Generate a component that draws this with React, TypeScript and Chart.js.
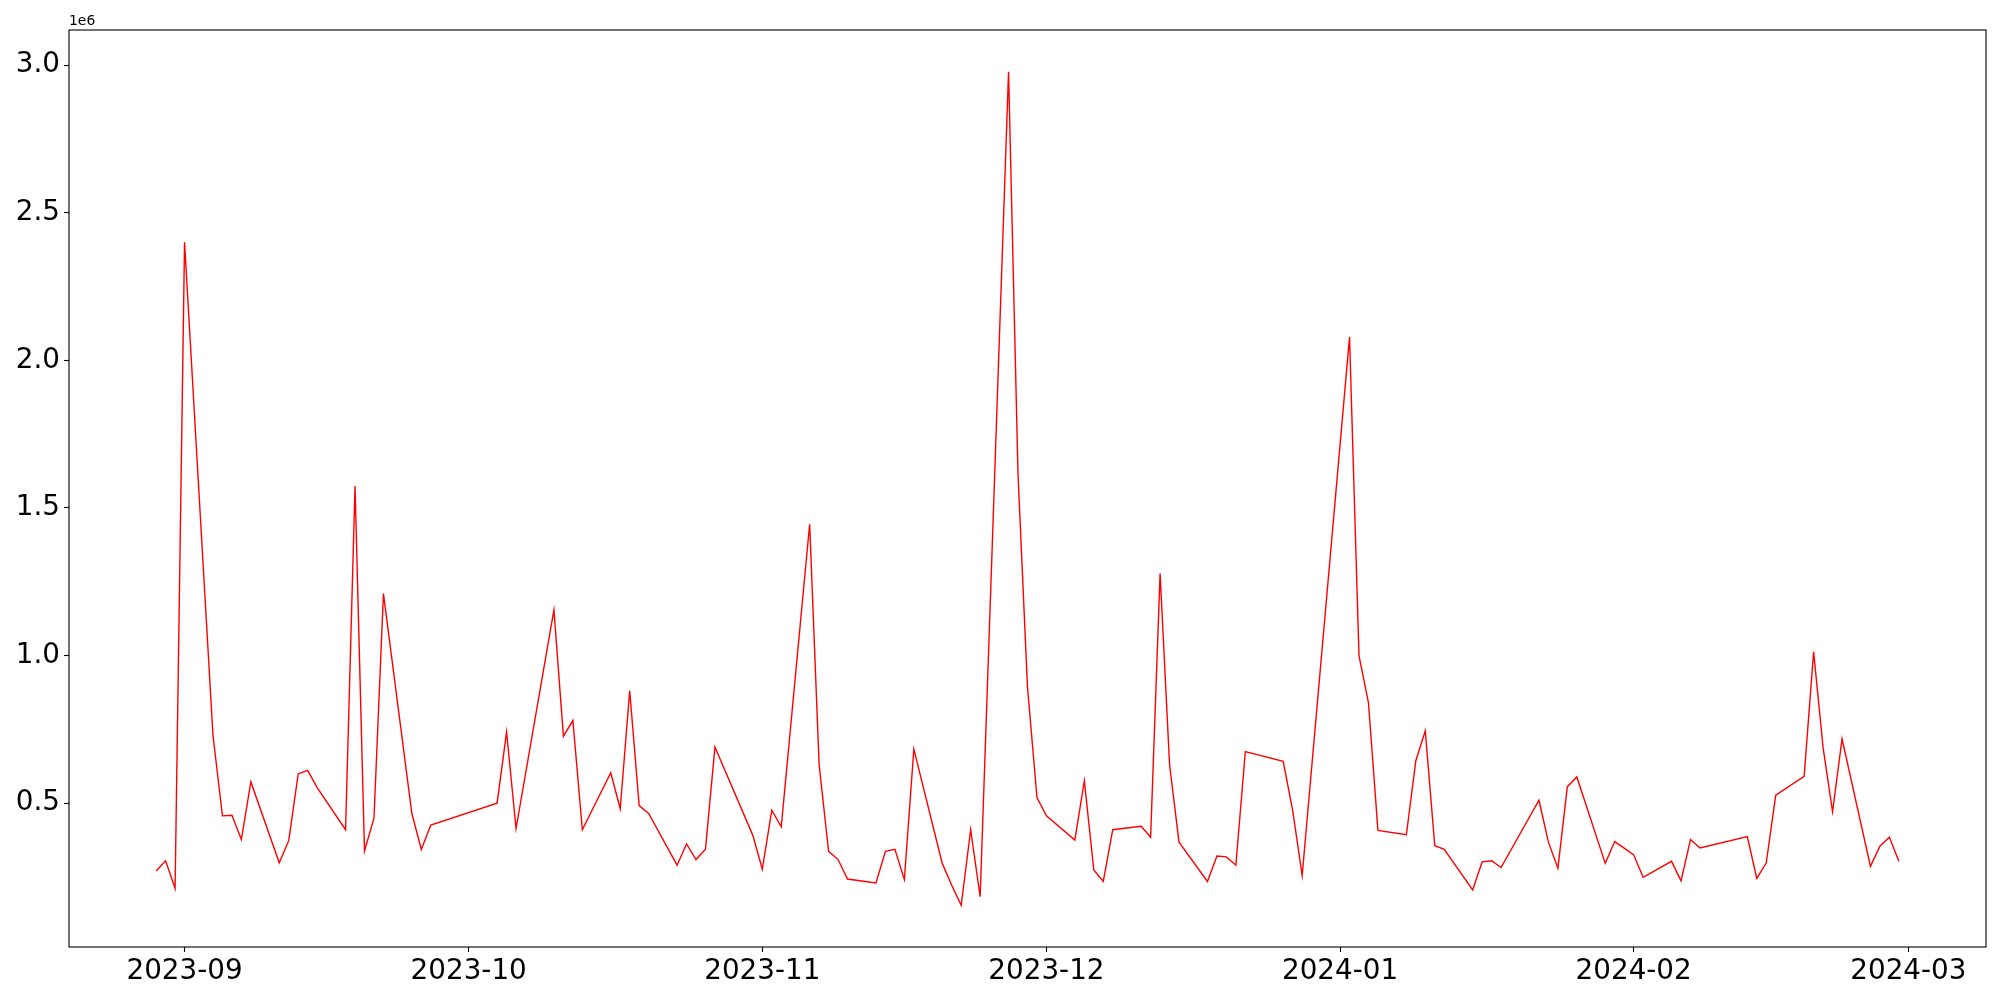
import React, { useEffect, useRef } from "react";
import { Chart, registerables } from "chart.js";

Chart.register(...registerables);

// Dates of each observation
const dates: string[] = [
  "2023-08-29", "2023-08-30", "2023-08-31", "2023-09-01",
  "2023-09-04", "2023-09-05", "2023-09-06", "2023-09-07", "2023-09-08",
  "2023-09-11", "2023-09-12", "2023-09-13", "2023-09-14", "2023-09-15",
  "2023-09-18", "2023-09-19", "2023-09-20", "2023-09-21", "2023-09-22",
  "2023-09-25", "2023-09-26", "2023-09-27",
  "2023-10-04", "2023-10-05", "2023-10-06",
  "2023-10-10", "2023-10-11", "2023-10-12", "2023-10-13",
  "2023-10-16", "2023-10-17", "2023-10-18", "2023-10-19", "2023-10-20",
  "2023-10-23", "2023-10-24", "2023-10-25", "2023-10-26", "2023-10-27",
  "2023-10-31", "2023-11-01", "2023-11-02", "2023-11-03",
  "2023-11-06", "2023-11-07", "2023-11-08", "2023-11-09", "2023-11-10",
  "2023-11-13", "2023-11-14", "2023-11-15", "2023-11-16", "2023-11-17",
  "2023-11-20", "2023-11-21", "2023-11-22", "2023-11-23", "2023-11-24",
  "2023-11-27", "2023-11-28", "2023-11-29", "2023-11-30", "2023-12-01",
  "2023-12-04", "2023-12-05", "2023-12-06", "2023-12-07", "2023-12-08",
  "2023-12-11", "2023-12-12", "2023-12-13", "2023-12-14", "2023-12-15",
  "2023-12-18", "2023-12-19", "2023-12-20", "2023-12-21", "2023-12-22",
  "2023-12-26", "2023-12-27", "2023-12-28",
  "2024-01-02", "2024-01-03", "2024-01-04", "2024-01-05",
  "2024-01-08", "2024-01-09", "2024-01-10", "2024-01-11", "2024-01-12",
  "2024-01-15", "2024-01-16", "2024-01-17", "2024-01-18",
  "2024-01-22", "2024-01-23", "2024-01-24", "2024-01-25", "2024-01-26",
  "2024-01-29", "2024-01-30", "2024-01-31", "2024-02-01", "2024-02-02",
  "2024-02-05", "2024-02-06", "2024-02-07", "2024-02-08",
  "2024-02-13", "2024-02-14", "2024-02-15", "2024-02-16",
  "2024-02-19", "2024-02-20", "2024-02-21", "2024-02-22", "2024-02-23",
  "2024-02-26", "2024-02-27", "2024-02-28", "2024-02-29",
];

// Series values (raw units; axis shows them scaled by 1e6)
const values: number[] = [
  270000, 305000, 212000, 2400000,
  730000, 457000, 459000, 377000, 572000,
  298000, 373000, 599000, 611000, 553000,
  410000, 1574000, 338000, 449000, 1210000,
  465000, 343000, 426000,
  500000, 741000, 414000,
  1155000, 727000, 780000, 410000,
  603000, 481000, 881000, 492000, 465000,
  290000, 362000, 309000, 344000, 690000,
  391000, 276000, 476000, 420000,
  1445000, 630000, 337000, 309000, 243000,
  230000, 337000, 344000, 241000, 683000,
  296000, 222000, 154000, 410000, 183000,
  2978000, 1613000, 893000, 519000, 457000,
  375000, 576000, 274000, 235000, 410000,
  422000, 385000, 1278000, 630000, 368000,
  235000, 321000, 318000, 290000, 675000,
  642000, 475000, 255000,
  2079000, 1000000, 840000, 408000,
  393000, 644000, 745000, 356000, 344000,
  206000, 301000, 305000, 282000,
  510000, 368000, 280000, 556000, 589000,
  296000, 370000, 348000, 325000, 249000,
  303000, 237000, 377000, 348000,
  387000, 245000, 298000, 527000,
  591000, 1013000, 688000, 471000, 718000,
  286000, 354000, 385000, 303000,
];

// X tick labels (month starts)
const monthTicks: string[] = [
  "2023-09", "2023-10", "2023-11", "2023-12", "2024-01", "2024-02", "2024-03",
];

// Y tick values (in units of 1e6)
const yTicks: number[] = [0.5, 1.0, 1.5, 2.0, 2.5, 3.0];

const toTs = (s: string) => {
  const p = s.split("-").map(Number);
  return Date.UTC(p[0], p[1] - 1, p[2] || 1);
};

const framePlugin = {
  id: "mplFrame",
  afterDraw(chart: any) {
    const { ctx, chartArea: a } = chart;
    ctx.save();
    ctx.strokeStyle = "#000";
    ctx.lineWidth = 1.1;
    ctx.strokeRect(a.left, a.top, a.right - a.left, a.bottom - a.top);
    ctx.fillStyle = "#000";
    ctx.font = '13.9px "DejaVu Sans"';
    ctx.textAlign = "left";
    ctx.textBaseline = "alphabetic";
    ctx.fillText("1e6", a.left, a.top - 5);
    ctx.restore();
  },
};

export default function App() {
  const ref = useRef<HTMLCanvasElement | null>(null);

  useEffect(() => {
    if (!ref.current) return;
    const pts = dates.map((d, i) => ({ x: toTs(d), y: values[i] }));
    const xs = pts.map((p) => p.x);
    const ys = values;
    const xMin0 = Math.min(...xs), xMax0 = Math.max(...xs);
    const yMin0 = Math.min(...ys), yMax0 = Math.max(...ys);
    const xm = (xMax0 - xMin0) * 0.05;
    const ym = (yMax0 - yMin0) * 0.05;
    const monthTs = monthTicks.map(toTs);
    const monthLabel: Record<number, string> = {};
    monthTicks.forEach((m, i) => (monthLabel[monthTs[i]] = m));

    const tickFont = { family: "DejaVu Sans", size: 27.8 };

    const chart = new Chart(ref.current, {
      type: "line",
      data: {
        datasets: [
          {
            data: pts,
            borderColor: "#ff0000",
            borderWidth: 1.4,
            pointRadius: 0,
            fill: false,
            tension: 0,
          },
        ],
      },
      options: {
        animation: false,
        responsive: false,
        devicePixelRatio: 1,
        layout: { padding: { top: 30, right: 14, left: 0, bottom: 0 } },
        plugins: {
          legend: { display: false },
          tooltip: { enabled: false },
        },
        scales: {
          x: {
            type: "linear",
            min: xMin0 - xm,
            max: xMax0 + xm,
            afterBuildTicks: (scale: any) => {
              scale.ticks = monthTs.map((v) => ({ value: v }));
            },
            afterFit: (scale: any) => {
              scale.height = 53;
            },
            ticks: {
              autoSkip: false,
              maxRotation: 0,
              minRotation: 0,
              color: "#000",
              font: tickFont,
              padding: 3,
              callback: (v: any) => monthLabel[v as number] ?? "",
            },
            grid: {
              display: true,
              drawOnChartArea: false,
              drawTicks: true,
              tickLength: 5,
              tickWidth: 1.1,
              tickColor: "#000",
            },
            border: { display: false },
          },
          y: {
            type: "linear",
            min: yMin0 - ym,
            max: yMax0 + ym,
            afterBuildTicks: (scale: any) => {
              scale.ticks = yTicks.map((v) => ({ value: v * 1e6 }));
            },
            afterFit: (scale: any) => {
              scale.width = 69;
            },
            ticks: {
              autoSkip: false,
              color: "#000",
              font: tickFont,
              padding: 4,
              callback: (v: any) => ((v as number) / 1e6).toFixed(1),
            },
            grid: {
              display: true,
              drawOnChartArea: false,
              drawTicks: true,
              tickLength: 5,
              tickWidth: 1.1,
              tickColor: "#000",
            },
            border: { display: false },
          },
        },
      },
      plugins: [framePlugin],
    } as any);

    return () => chart.destroy();
  }, []);

  return (
    <div
      style={{
        position: "fixed",
        left: 0,
        top: 0,
        width: 2000,
        height: 1000,
        background: "#fff",
      }}
    >
      <canvas ref={ref} width={2000} height={1000} style={{ width: 2000, height: 1000 }} />
    </div>
  );
}
